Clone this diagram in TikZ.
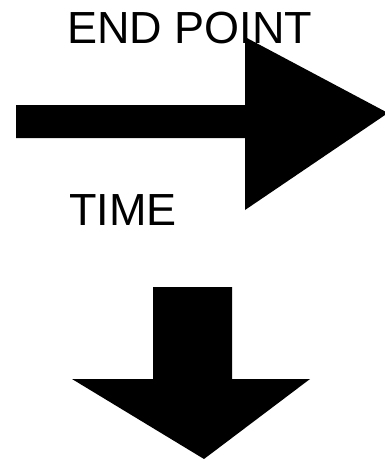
\documentclass[tikz,border=0pt]{standalone}
\usepackage{fontspec}
\setmainfont{Liberation Sans}
\begin{document}
\begin{tikzpicture}[x=1pt, y=-1pt, font=\fontsize{45}{50}\selectfont, line join=miter]
			\tikzset{label/.style={inner sep=0pt, anchor=base west}}
			\useasboundingbox (0,0) rectangle (384,459);
			% --- texts
			\node[label] (endpoint) at (67,43) {END POINT};
			\node[label] (time) at (69,225) {TIME};
			% --- right arrow
			\fill (16,105) -- (245,105) -- (245,37) -- (388,113) -- (245,210) -- (245,138) -- (16,138) -- cycle;
			% --- down arrow
			\fill (153,287) -- (232,287) -- (232,379) -- (310,379) -- (204,459) -- (72,379) -- (153,379) -- cycle;
		\end{tikzpicture}
\end{document}
